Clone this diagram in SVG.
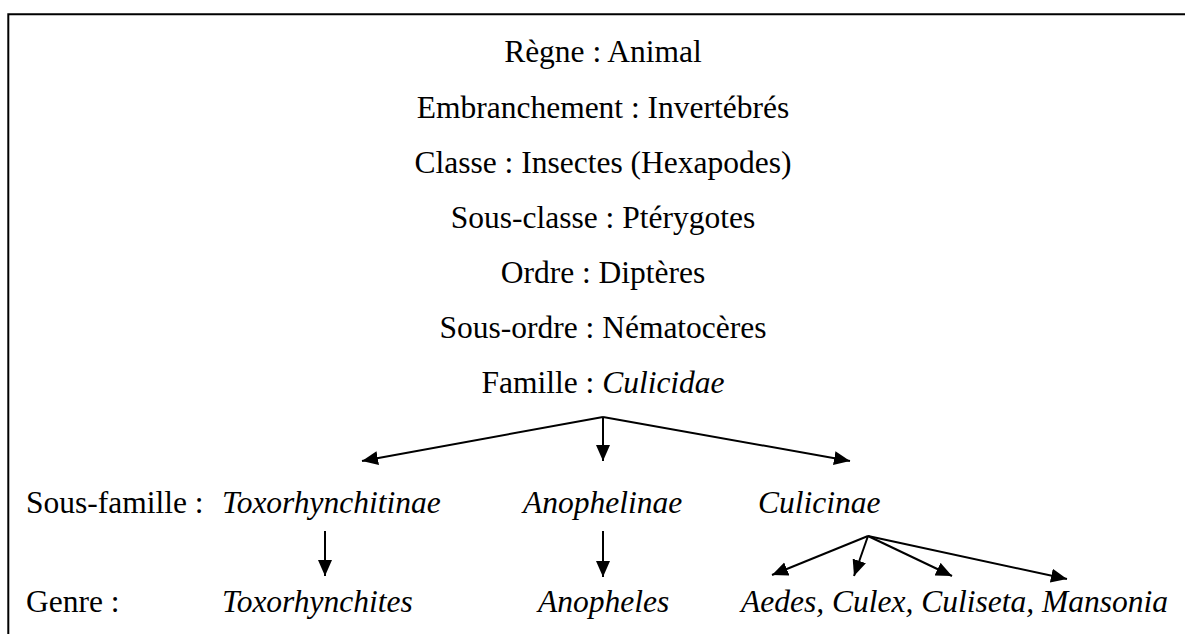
<svg xmlns="http://www.w3.org/2000/svg" width="1185" height="634" viewBox="0 0 1185 634">
<style>
text{font-family:"Liberation Serif","Times New Roman",serif;font-size:31.5px;fill:#000}
.c{text-anchor:middle}
.i{font-style:italic}
.ln{stroke:#000;stroke-width:2;fill:none}
</style>
<defs>
<marker id="ah" markerUnits="userSpaceOnUse" markerWidth="17" markerHeight="15" refX="16" refY="7" orient="auto" viewBox="0 0 17 15">
<path d="M0,0 L16,7 L0,14 Z" fill="#000"/>
</marker>
</defs>
<rect width="1185" height="634" fill="#fff"/>
<g id="frame">
<path class="ln" d="M8.3,634 L8.3,14.3 L1185,14.3"/>
</g>
<g id="regne"><text class="c" x="603" y="62">Règne : Animal</text></g>
<g id="embranchement"><text class="c" x="603" y="118">Embranchement : Invertébrés</text></g>
<g id="classe"><text class="c" x="603" y="173">Classe : Insectes (Hexapodes)</text></g>
<g id="sous-classe"><text class="c" x="603" y="228">Sous-classe : Ptérygotes</text></g>
<g id="ordre"><text class="c" x="603" y="283">Ordre : Diptères</text></g>
<g id="sous-ordre"><text class="c" x="603" y="338">Sous-ordre : Nématocères</text></g>
<g id="famille"><text class="c" x="603" y="393">Famille : <tspan class="i">Culicidae</tspan></text></g>
<g id="label-sous-famille"><text x="26" y="513">Sous-famille :</text></g>
<g id="toxorhynchitinae"><text class="i" x="222" y="513">Toxorhynchitinae</text></g>
<g id="anophelinae"><text class="i" x="523" y="513">Anophelinae</text></g>
<g id="culicinae"><text class="i" x="758" y="513">Culicinae</text></g>
<g id="label-genre"><text x="26" y="612">Genre :</text></g>
<g id="toxorhynchites"><text class="i" x="222" y="612">Toxorhynchites</text></g>
<g id="anopheles"><text class="i" x="538" y="612">Anopheles</text></g>
<g id="genres-culicinae"><text class="i" x="741" y="612">Aedes, Culex, Culiseta, Mansonia</text></g>
<g id="connectors">
<line class="ln" x1="603" y1="417" x2="362" y2="461" marker-end="url(#ah)"/>
<line class="ln" x1="603" y1="417" x2="603" y2="461" marker-end="url(#ah)"/>
<line class="ln" x1="603" y1="417" x2="850" y2="461" marker-end="url(#ah)"/>
<line class="ln" x1="325" y1="531" x2="325" y2="576" marker-end="url(#ah)"/>
<line class="ln" x1="603" y1="531" x2="603" y2="577" marker-end="url(#ah)"/>
<line class="ln" x1="868" y1="536" x2="772" y2="575" marker-end="url(#ah)"/>
<line class="ln" x1="868" y1="536" x2="854" y2="576" marker-end="url(#ah)"/>
<line class="ln" x1="868" y1="536" x2="952" y2="576" marker-end="url(#ah)"/>
<line class="ln" x1="868" y1="536" x2="1067" y2="579" marker-end="url(#ah)"/>
</g>
</svg>
